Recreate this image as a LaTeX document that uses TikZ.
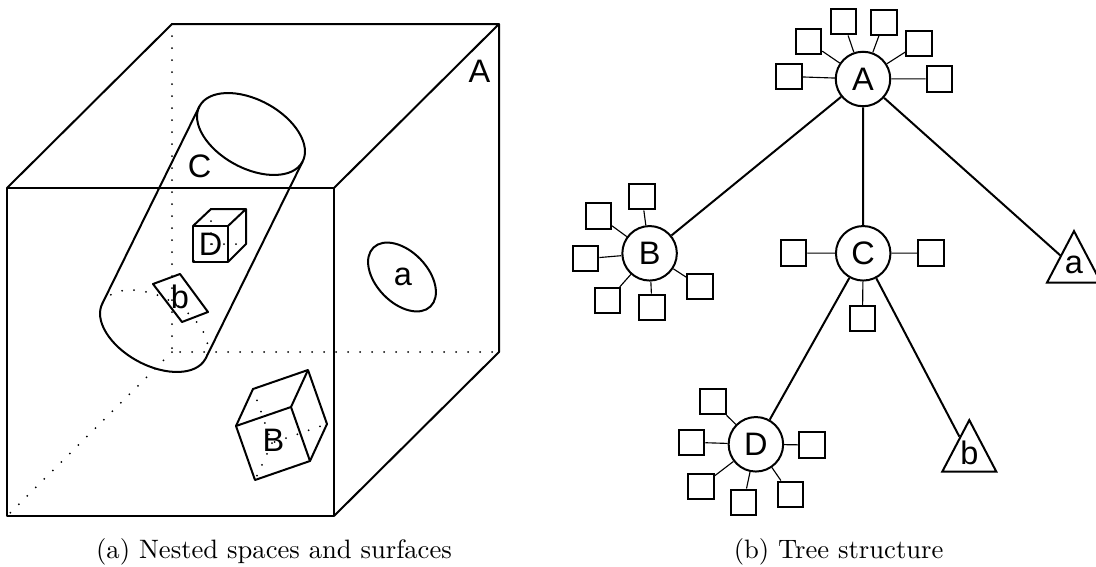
\documentclass[tikz,border=0pt]{standalone}
\usepackage{fontspec}
\newfontfamily\labfont{Liberation Sans}
\newcommand\tagfont{\labfont\fontsize{13}{15}\selectfont}
\usetikzlibrary{shapes.geometric}
\tikzset{
  lab/.style={font=\tagfont, inner sep=0pt},
  edge/.style={line width=0.8pt, line join=round},
  hidden/.style={line width=0.8pt, line cap=round, dash pattern=on 0pt off 4.8pt},
  inner/.style={circle, draw, line width=0.8pt, minimum size=21.8pt, inner sep=0pt, font=\tagfont},
  leaf/.style={draw, line width=0.8pt, minimum size=10.2pt, inner sep=0pt},
  tri/.style={isosceles triangle, shape border rotate=90, isosceles triangle stretches,
    draw, line width=0.8pt, minimum width=21.6pt, minimum height=20.6pt, inner sep=0pt,
    text depth=2pt, font=\tagfont},
  branch/.style={line width=0.8pt},
  twig/.style={line width=0.45pt},
  caption/.style={font=\fontsize{10.65}{13}\selectfont, anchor=base}
}
\begin{document}
\begin{tikzpicture}[x=0.4pt, y=-0.4pt]
    \useasboundingbox (0,0) rectangle (1096,567);

    % (a) nested spaces and surfaces
    \draw[edge] (7,188) rectangle (334,516);
    \draw[edge] (7,188) -- (172,24) -- (499,24) -- (334,188);
    \draw[edge] (499,24) -- (499,352) -- (334,516);
    \draw[hidden] (172,24) -- (172,352) -- (499,352);
    \draw[hidden] (172,352) -- (7,516);
    \node[lab] (spA) at (479.5,71.5) {A};

    \begin{scope}[shift={(251,134)}, rotate=-28.4]
        \draw[edge] (0,0) ellipse (58.5 and 34.2);
    \end{scope}
    \begin{scope}[shift={(154,331)}, rotate=-28.4]
        \draw[edge] (58.5,0) arc (0:180:58.5 and 34.2);
        \draw[hidden] (-58.5,0) arc (180:360:58.5 and 34.2);
    \end{scope}
    \draw[edge] (199.5,106.2) -- (102.5,303.2);
    \draw[edge] (302.5,161.8) -- (205.5,358.8);
    \node[lab] (spC) at (199.5,166) {C};

    \draw[edge] (193,226) rectangle (228,262);
    \draw[edge] (193,226) -- (211,209) -- (246,209) -- (228,226);
    \draw[edge] (246,209) -- (246,244) -- (228,262);
    \draw[hidden] (211,209) -- (211,244) -- (246,244);
    \draw[hidden] (211,244) -- (193,262);
    \node[lab] (spD) at (210.5,244) {D};

    \draw[edge] (153,284) -- (180,274) -- (208,312) -- (182,322) -- cycle;
    \node[lab] (sfb) at (180,297) {b};

    \draw[edge, rotate around={-46:(402,277)}] (402,277) ellipse (41 and 25.6);
    \node[lab] (sfa) at (403,277) {a};

    \draw[edge] (253,389) -- (308,370) -- (327,424) -- (310,461) -- (255,480) -- (236,426) -- cycle;
    \draw[edge] (236,426) -- (291,407) -- (308,370);
    \draw[edge] (291,407) -- (310,461);
    \draw[hidden] (253,389) -- (272,443) -- (327,424);
    \draw[hidden] (272,443) -- (255,480);
    \node[lab] (spB) at (273.5,440.5) {B};

    \node[caption] (capa) at (274,558.5) {(a) Nested spaces and surfaces};

    % (b) tree structure
    \node[inner] (A) at (863,79) {A};
    \node[inner] (B) at (649.6,253.3) {B};
    \node[inner] (C) at (863.2,253.3) {C};
    \node[inner] (D) at (755.9,444.3) {D};
    \node[tri, anchor=apex] (a) at (1074,228.5) {a};
    \node[tri, anchor=apex] (b) at (969.3,417.5) {b};

    \draw[branch] (A) -- (B);
    \draw[branch] (A) -- (C);
    \draw[branch] (A) -- (a);
    \draw[branch] (C) -- (D);
    \draw[branch] (C) -- (b);

    \foreach \p [count=\i] in {(789,76.5), (808.5,41.7), (843.4,21.7), (883.9,22.3), (919,43.3), (939.4,78.8)} {
        \node[leaf] (A\i) at \p {};
        \draw[twig] (A) -- (A\i);
    }
    \foreach \p [count=\i] in {(642,196.7), (598.3,215.8), (585.6,258.7), (607.5,300.7), (652,307.3), (700.2,286.3)} {
        \node[leaf] (B\i) at \p {};
        \draw[twig] (B) -- (B\i);
    }
    \foreach \p [count=\i] in {(793.5,253), (930.9,253), (862.5,318.7)} {
        \node[leaf] (C\i) at \p {};
        \draw[twig] (C) -- (C\i);
    }
    \foreach \p [count=\i] in {(712.8,401.7), (691.6,442.3), (812,445), (700.9,486.3), (743.6,502.3), (790.4,494.3)} {
        \node[leaf] (D\i) at \p {};
        \draw[twig] (D) -- (D\i);
    }

    \node[caption] (capb) at (838.6,558.5) {(b) Tree structure};
\end{tikzpicture}
\end{document}
